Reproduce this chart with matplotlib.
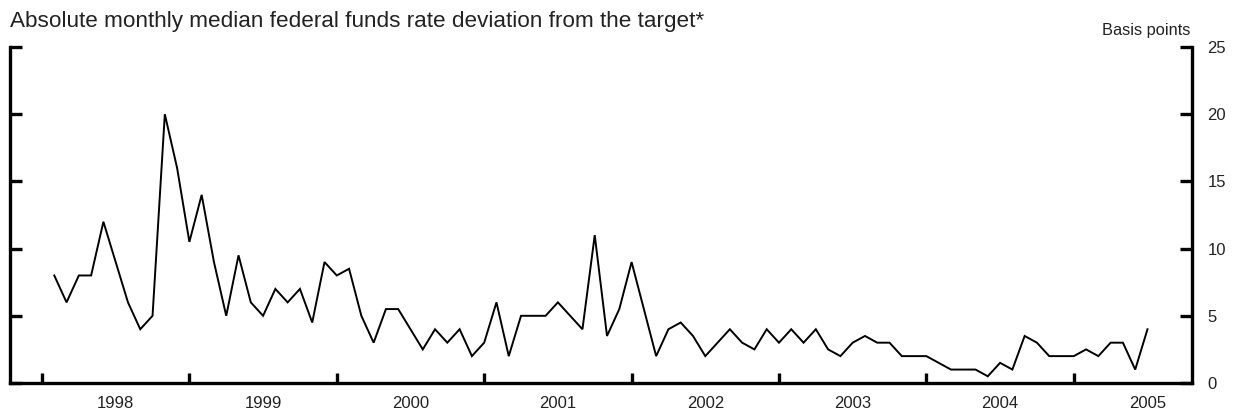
import matplotlib
matplotlib.use("Agg")
import matplotlib.pyplot as plt
import pandas as pd

# Absolute monthly median deviation of the federal funds rate from target (basis points)
start_month = "1998-02-01"
deviation_bp = [
    8, 6, 8, 8, 12, 9, 6, 4, 5, 20, 16, 10.5, 14, 9, 5, 9.5, 6, 5, 7, 6,
    7, 4.5, 9, 8, 8.5, 5, 3, 5.5, 5.5, 4, 2.5, 4, 3, 4, 2, 3, 6, 2, 5, 5,
    5, 6, 5, 4, 11, 3.5, 5.5, 9, 5.5, 2, 4, 4.5, 3.5, 2, 3, 4, 3, 2.5, 4, 3,
    4, 3, 4, 2.5, 2, 3, 3.5, 3, 3, 2, 2, 2, 1.5, 1, 1, 1, 0.5, 1.5, 1, 3.5,
    3, 2, 2, 2, 2.5, 2, 3, 3, 1, 4,
]
years = [1998, 1999, 2000, 2001, 2002, 2003, 2004, 2005]
y_ticks = [0, 5, 10, 15, 20, 25]

title = "Absolute monthly median federal funds rate deviation from the target*"
unit_label = "Basis points"

dates = pd.date_range(start_month, periods=len(deviation_bp), freq="MS")
x = dates.year + (dates.month - 1) / 12.0

plt.rcParams["font.family"] = ["Liberation Sans", "DejaVu Sans"]
text_color = "#222222"

fig = plt.figure(figsize=(12.44, 4.15), dpi=100)
ax = fig.add_axes([10 / 1244, 32 / 415, 1182 / 1244, 336 / 415])

ax.plot(x, deviation_bp, color="black", linewidth=1.4, solid_joinstyle="miter")

ax.set_xlim(1997.783, 2005.802)
ax.set_ylim(0, 25)

for side in ("left", "right", "bottom"):
    ax.spines[side].set_linewidth(2.4)
    ax.spines[side].set_color("black")
ax.spines["top"].set_visible(False)

# x axis: year boundaries as ticks, year names centred in each year
ax.set_xticks(years)
ax.set_xticklabels([])
ax.set_xticks([yr + 0.5 for yr in years], minor=True)
ax.set_xticklabels([str(yr) for yr in years], minor=True)
ax.tick_params(axis="x", which="major", direction="in", length=7, width=2.4,
               color="black", top=False)
ax.tick_params(axis="x", which="minor", length=0, pad=9, labelsize=12,
               labelcolor=text_color)

# y axis: ticks on both sides, labels on the right only
ax.set_yticks(y_ticks)
ax.set_yticks([y_ticks[-1]], minor=True)
ax.tick_params(axis="y", which="major", direction="in", length=8.5, width=2.4,
               left=True, right=True, labelleft=False, labelright=True,
               pad=11, labelsize=12, labelcolor=text_color, color="black")
ax.tick_params(axis="y", which="minor", direction="in", length=16.5, width=2.4,
               left=True, right=True, labelleft=False, labelright=False,
               color="black")

fig.text(10 / 1244, 1 - 27 / 415, title, fontsize=16.2, color=text_color,
         ha="left", va="baseline")
fig.text(1190 / 1244, 1 - 35 / 415, unit_label, fontsize=11.8, color=text_color,
         ha="right", va="baseline")

fig.savefig("out.png", dpi=100)
